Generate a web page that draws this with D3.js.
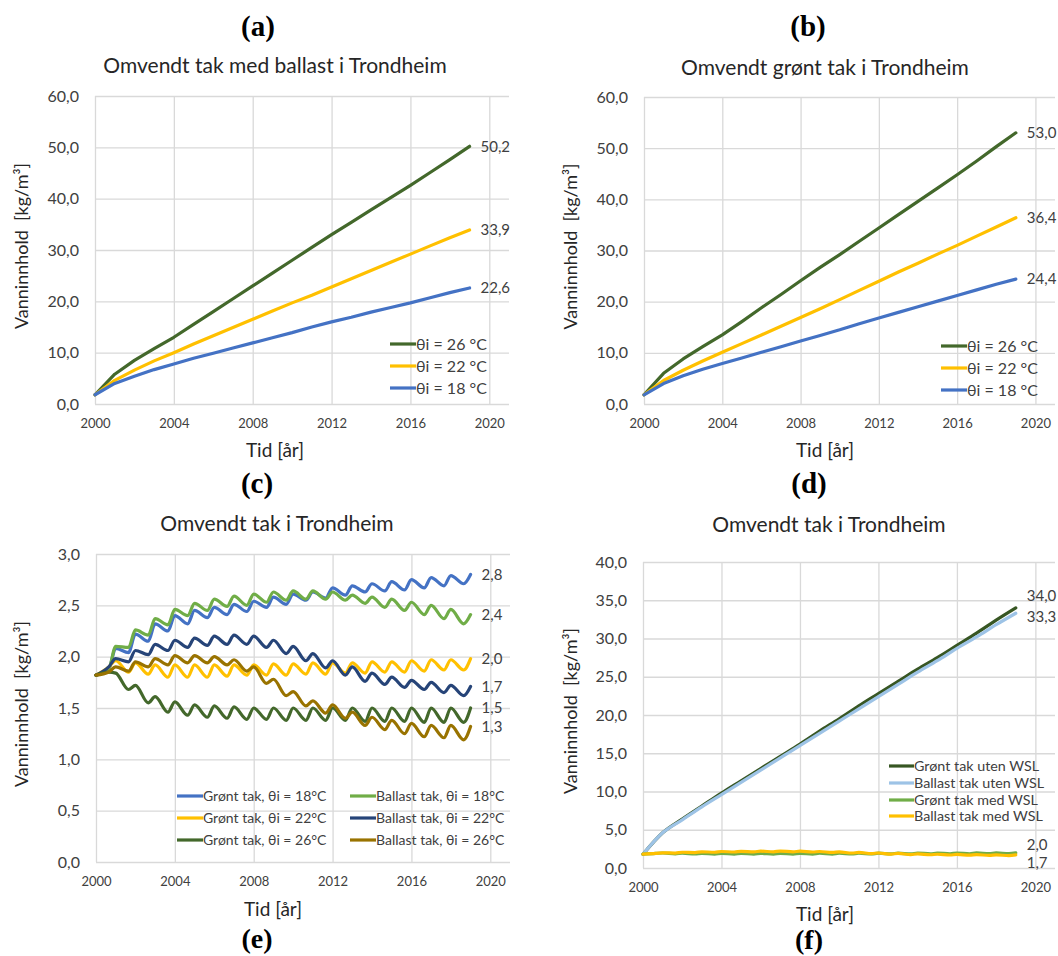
<!DOCTYPE html>
<html>
<head>
<meta charset="utf-8">
<script src="https://cdn.jsdelivr.net/npm/d3@7"></script>
<style>
  body { margin: 0; background: #fff; }
  svg { display: block; font-family: Lato, "Open Sans", sans-serif; }
  .ttl { white-space: pre; }
</style>
</head>
<body>
<script>
/**********************
 ***      Data      ***
 **********************/

// yearly points, panels (a), (b) and the "uten WSL" lines in (d)
const YEARS = [2000, 2001, 2002, 2003, 2004, 2005, 2006, 2007, 2008, 2009,
               2010, 2011, 2012, 2013, 2014, 2015, 2016, 2017, 2018, 2019];

// seasonal peaks (whole year) and troughs (.65) for panel (c) / med WSL lines
const TIMES_C = [2000, 2000.65, 2001, 2001.65, 2002, 2002.65, 2003, 2003.65, 2004, 2004.65,
                 2005, 2005.65, 2006, 2006.65, 2007, 2007.65, 2008, 2008.65, 2009, 2009.65,
                 2010, 2010.65, 2011, 2011.65, 2012, 2012.65, 2013, 2013.65, 2014, 2014.65,
                 2015, 2015.65, 2016, 2016.65, 2017, 2017.65, 2018, 2018.65, 2019];

const X_TICKS = [2000, 2004, 2008, 2012, 2016, 2020];

// (a) Omvendt tak med ballast
const A_THETA26 = [1.8, 5.8, 8.5, 10.8, 13.0, 15.5, 18.0, 20.5, 23.0, 25.5, 28.0, 30.5, 33.0, 35.4, 37.8, 40.2, 42.6, 45.1, 47.6, 50.2];
const A_THETA22 = [1.8, 4.6, 6.6, 8.4, 10.0, 11.7, 13.3, 14.9, 16.5, 18.1, 19.7, 21.2, 22.8, 24.4, 26.0, 27.6, 29.2, 30.8, 32.4, 33.9];
const A_THETA18 = [1.8, 4.0, 5.4, 6.7, 7.8, 8.9, 9.9, 10.9, 11.9, 12.9, 13.9, 15.0, 16.0, 16.9, 17.9, 18.8, 19.7, 20.7, 21.7, 22.6];

// (b) Omvendt grønt tak
const B_THETA26 = [1.8, 6.0, 8.8, 11.2, 13.5, 16.1, 18.8, 21.4, 24.1, 26.7, 29.2, 31.8, 34.4, 37.0, 39.6, 42.2, 44.8, 47.5, 50.3, 53.0];
const B_THETA22 = [1.8, 4.6, 6.6, 8.4, 10.1, 11.8, 13.5, 15.2, 16.9, 18.6, 20.4, 22.2, 24.0, 25.8, 27.5, 29.3, 31.0, 32.8, 34.6, 36.4];
const B_THETA18 = [1.8, 4.0, 5.5, 6.8, 7.9, 9.0, 10.1, 11.2, 12.3, 13.4, 14.5, 15.7, 16.8, 17.9, 19.0, 20.1, 21.2, 22.3, 23.4, 24.4];

// (c) Omvendt tak, grønt vs ballast
const C_GRONT18 = [1.82, 1.88, 2.08, 2.04, 2.22, 2.15, 2.32, 2.25, 2.40, 2.32, 2.45, 2.38, 2.48, 2.41, 2.51, 2.44, 2.54, 2.48, 2.58, 2.51,
                   2.61, 2.55, 2.63, 2.57, 2.67, 2.60, 2.69, 2.63, 2.71, 2.64, 2.73, 2.65, 2.75, 2.67, 2.77, 2.69, 2.79, 2.71, 2.80];
const C_BALLAST18 = [1.82, 1.88, 2.10, 2.09, 2.26, 2.21, 2.37, 2.31, 2.46, 2.40, 2.52, 2.45, 2.56, 2.49, 2.59, 2.50, 2.61, 2.53, 2.63, 2.55,
                     2.64, 2.56, 2.64, 2.56, 2.63, 2.55, 2.60, 2.52, 2.58, 2.48, 2.56, 2.45, 2.53, 2.41, 2.50, 2.37, 2.46, 2.32, 2.41];
const C_GRONT22 = [1.82, 1.90, 1.96, 1.85, 1.94, 1.83, 1.92, 1.80, 1.92, 1.80, 1.92, 1.80, 1.92, 1.81, 1.92, 1.82, 1.92, 1.82, 1.93, 1.82,
                   1.93, 1.83, 1.94, 1.83, 1.94, 1.84, 1.94, 1.84, 1.95, 1.85, 1.95, 1.85, 1.96, 1.86, 1.97, 1.87, 1.97, 1.87, 1.98];
const C_BALLAST22 = [1.82, 1.90, 1.98, 1.95, 2.06, 2.02, 2.12, 2.06, 2.16, 2.09, 2.18, 2.11, 2.20, 2.12, 2.21, 2.12, 2.20, 2.09, 2.16, 2.03,
                     2.10, 1.96, 2.03, 1.89, 1.96, 1.82, 1.90, 1.76, 1.84, 1.73, 1.80, 1.70, 1.77, 1.68, 1.75, 1.65, 1.72, 1.62, 1.71];
const C_GRONT26 = [1.82, 1.85, 1.84, 1.68, 1.72, 1.55, 1.61, 1.46, 1.56, 1.43, 1.53, 1.41, 1.52, 1.40, 1.51, 1.39, 1.50, 1.39, 1.50, 1.38,
                   1.50, 1.38, 1.50, 1.38, 1.50, 1.38, 1.50, 1.37, 1.50, 1.37, 1.50, 1.37, 1.50, 1.36, 1.50, 1.36, 1.50, 1.36, 1.50];
const C_BALLAST26 = [1.82, 1.85, 1.90, 1.86, 1.95, 1.90, 1.98, 1.92, 2.01, 1.94, 2.01, 1.94, 2.00, 1.92, 1.97, 1.86, 1.90, 1.74, 1.78, 1.62,
                     1.66, 1.52, 1.57, 1.45, 1.53, 1.40, 1.46, 1.33, 1.41, 1.29, 1.38, 1.25, 1.35, 1.22, 1.33, 1.21, 1.33, 1.19, 1.32];

// (d) med / uten WSL
const D_GRONT_UTEN = [1.8, 4.6, 6.4, 8.1, 9.8, 11.4, 13.0, 14.6, 16.2, 17.9, 19.5, 21.2, 22.8, 24.4, 26.0, 27.5, 29.1, 30.7, 32.4, 34.0];
const D_BALLAST_UTEN = [1.8, 4.6, 6.3, 8.0, 9.6, 11.2, 12.8, 14.4, 16.0, 17.6, 19.2, 20.8, 22.4, 24.0, 25.6, 27.1, 28.7, 30.2, 31.8, 33.3];
const D_GRONT_MED = [1.82, 1.90, 1.96, 1.85, 1.94, 1.83, 1.92, 1.80, 1.92, 1.80, 1.92, 1.80, 1.92, 1.81, 1.92, 1.82, 1.92, 1.82, 1.93, 1.82,
                     1.93, 1.83, 1.94, 1.83, 1.94, 1.84, 1.94, 1.84, 1.95, 1.85, 1.95, 1.85, 1.96, 1.86, 1.97, 1.87, 1.97, 1.87, 1.98];
const D_BALLAST_MED = [1.82, 1.90, 1.98, 1.95, 2.06, 2.02, 2.12, 2.06, 2.16, 2.09, 2.18, 2.11, 2.20, 2.12, 2.21, 2.12, 2.20, 2.09, 2.16, 2.03,
                       2.10, 1.96, 2.03, 1.89, 1.96, 1.82, 1.90, 1.76, 1.84, 1.73, 1.80, 1.70, 1.77, 1.68, 1.75, 1.65, 1.72, 1.62, 1.71];

/**********************
 ***    Constants   ***
 **********************/
const WIDTH = 1058, HEIGHT = 956;
const GRID = '#d9d9d9';
const TEXT = '#262626';
const TICK_TEXT = '#404040';
const Y_TITLE = 'Vanninnhold  [kg/m\u00b3]';
const X_TITLE = 'Tid [år]';

const COLORS = {
  blue: '#4472c4', yellow: '#ffc000', green: '#70ad47',
  navy: '#264478', olive: '#43682b', gold: '#997300',
  darkGreen: '#375623', lightBlue: '#9dc3e6'
};

const no = d3.formatLocale({ decimal: ',', thousands: '\u00a0', grouping: [3], currency: ['', ''] });
const fmt1 = no.format('.1f');

const svg = d3.select('body').append('svg')
  .attr('width', WIDTH)
  .attr('height', HEIGHT);

/**********************
 ***     Panels     ***
 **********************/
const panels = [
  {
    label: '(a)', labelPos: [258, 36], title: 'Omvendt tak med ballast i Trondheim', titlePos: [275, 73],
    left: 95, right: 509, top: 96, bottom: 404, yMax: 60, yStep: 10,
    yTitleX: 22, xTitlePos: [275, 457],
    times: YEARS,
    series: [
      { name: 'θi = 26 °C', values: A_THETA26, color: COLORS.olive },
      { name: 'θi = 22 °C', values: A_THETA22, color: COLORS.yellow },
      { name: 'θi = 18 °C', values: A_THETA18, color: COLORS.blue }
    ],
    legend: { cols: [[390, 0]], rows: [344, 366, 388], len: 26, size: 16 },
    endLabels: [0, 0, 0]
  },
  {
    label: '(b)', labelPos: [808, 36], title: 'Omvendt grønt tak i Trondheim', titlePos: [825, 75],
    left: 644, right: 1055, top: 97, bottom: 404, yMax: 60, yStep: 10,
    yTitleX: 571, xTitlePos: [825, 457],
    times: YEARS,
    series: [
      { name: 'θi = 26 °C', values: B_THETA26, color: COLORS.olive },
      { name: 'θi = 22 °C', values: B_THETA22, color: COLORS.yellow },
      { name: 'θi = 18 °C', values: B_THETA18, color: COLORS.blue }
    ],
    legend: { cols: [[941, 0]], rows: [346, 368, 390], len: 26, size: 16 },
    endLabels: [0, 0, 0]
  },
  {
    label: '(c)', labelPos: [257, 493], title: 'Omvendt tak i Trondheim', titlePos: [277, 531],
    left: 96, right: 510, top: 554, bottom: 862, yMax: 3, yStep: 0.5,
    yTitleX: 22, xTitlePos: [273, 916],
    times: TIMES_C, smooth: true,
    series: [
      { name: 'Grønt tak, θi = 18°C', values: C_GRONT18, color: COLORS.blue },
      { name: 'Ballast tak, θi = 18°C', values: C_BALLAST18, color: COLORS.green },
      { name: 'Grønt tak, θi = 22°C', values: C_GRONT22, color: COLORS.yellow },
      { name: 'Ballast tak, θi = 22°C', values: C_BALLAST22, color: COLORS.navy },
      { name: 'Grønt tak, θi = 26°C', values: C_GRONT26, color: COLORS.olive },
      { name: 'Ballast tak, θi = 26°C', values: C_BALLAST26, color: COLORS.gold }
    ],
    legend: { cols: [[177, 0], [350, 1]], rows: [796, 818, 840], len: 26, size: 14, twoCol: true },
    endLabels: [0, 0, 0, 0, 0, 0]
  },
  {
    label: '(d)', labelPos: [809, 493], title: 'Omvendt tak i Trondheim', titlePos: [829, 532],
    left: 643, right: 1055, top: 562, bottom: 868, yMax: 40, yStep: 5,
    yTitleX: 571, xTitlePos: [825, 921],
    times: null, smooth: true,
    series: [
      { name: 'Grønt tak uten WSL', values: D_GRONT_UTEN, times: YEARS, color: COLORS.darkGreen },
      { name: 'Ballast tak uten WSL', values: D_BALLAST_UTEN, times: YEARS, color: COLORS.lightBlue },
      { name: 'Grønt tak med WSL', values: D_GRONT_MED, times: TIMES_C, color: COLORS.green },
      { name: 'Ballast tak med WSL', values: D_BALLAST_MED, times: TIMES_C, color: COLORS.yellow }
    ],
    legend: { cols: [[889, 0]], rows: [766, 783, 800, 816], len: 25, size: 14.3 },
    endLabels: [-12, 3, -8, 8]
  }
];

function drawPanel(p) {
  const g = svg.append('g');
  const x = d3.scaleLinear().domain([2000, 2021]).range([p.left, p.right]);
  const y = d3.scaleLinear().domain([0, p.yMax]).range([p.bottom, p.top]);
  const yTicks = d3.range(0, p.yMax + p.yStep / 2, p.yStep);

  // horizontal gridlines + y tick labels
  g.append('g')
    .attr('transform', `translate(${p.left},0)`)
    .call(d3.axisLeft(y).tickValues(yTicks).tickSize(-(p.right - p.left)).tickPadding(16).tickFormat(fmt1))
    .call(a => a.select('.domain').remove())
    .call(a => a.selectAll('line').attr('stroke', GRID).attr('stroke-width', 1.3))
    .call(a => a.selectAll('text').attr('font-size', 16).attr('fill', TICK_TEXT).attr('font-family', 'Lato'));

  // vertical gridlines + x tick labels
  g.append('g')
    .attr('transform', `translate(0,${p.bottom})`)
    .call(d3.axisBottom(x).tickValues(X_TICKS).tickSize(-(p.bottom - p.top)).tickPadding(15).tickFormat(d3.format('d')))
    .call(a => a.select('.domain').remove())
    .call(a => a.selectAll('line').attr('stroke', GRID).attr('stroke-width', 1.3))
    .call(a => a.selectAll('text').attr('font-size', 13).attr('fill', TICK_TEXT).attr('font-family', 'Lato'));

  // lines
  p.series.forEach(s => {
    const times = s.times || p.times;
    const line = d3.line()
      .x((d, i) => x(times[i]))
      .y(d => y(d))
      .curve(p.smooth ? d3.curveMonotoneX : d3.curveLinear);
    g.append('path')
      .datum(s.values)
      .attr('d', line)
      .attr('fill', 'none')
      .attr('stroke', s.color)
      .attr('stroke-width', 3.2)
      .attr('stroke-linejoin', 'round')
      .attr('stroke-linecap', 'round');
  });

  // value labels at the line ends
  p.series.forEach((s, i) => {
    const times = s.times || p.times;
    const last = s.values.length - 1;
    g.append('text')
      .attr('x', x(times[last]) + 11)
      .attr('y', y(s.values[last]) + p.endLabels[i])
      .attr('dy', '0.35em')
      .attr('font-size', 15)
      .attr('fill', TICK_TEXT)
      .text(fmt1(s.values[last]));
  });

  // legend
  const lg = g.append('g');
  p.series.forEach((s, i) => {
    const col = p.legend.twoCol ? i % 2 : 0;
    const row = p.legend.twoCol ? Math.floor(i / 2) : i;
    const lx = p.legend.cols[col][0];
    const ly = p.legend.rows[row];
    lg.append('line')
      .attr('x1', lx).attr('x2', lx + p.legend.len)
      .attr('y1', ly).attr('y2', ly)
      .attr('stroke', s.color).attr('stroke-width', 3.2);
    lg.append('text')
      .attr('x', lx + p.legend.len)
      .attr('y', ly)
      .attr('dy', '0.35em')
      .attr('font-size', p.legend.size)
      .attr('fill', TICK_TEXT)
      .text(s.name);
  });

  // titles
  svg.append('text')
    .attr('x', p.titlePos[0]).attr('y', p.titlePos[1])
    .attr('text-anchor', 'middle')
    .attr('font-size', 21)
    .attr('fill', TEXT)
    .text(p.title);

  svg.append('text')
    .attr('class', 'ttl')
    .attr('transform', `translate(${p.yTitleX},${(p.top + p.bottom) / 2 - 4}) rotate(-90)`)
    .attr('text-anchor', 'middle')
    .attr('dy', '0.35em')
    .attr('font-size', 18)
    .attr('fill', TEXT)
    .text(Y_TITLE);

  svg.append('text')
    .attr('x', p.xTitlePos[0]).attr('y', p.xTitlePos[1])
    .attr('text-anchor', 'middle')
    .attr('font-size', 19)
    .attr('fill', TEXT)
    .text(X_TITLE);

  svg.append('text')
    .attr('x', p.labelPos[0]).attr('y', p.labelPos[1])
    .attr('text-anchor', 'middle')
    .attr('font-family', '"Liberation Serif", "Times New Roman", serif')
    .attr('font-weight', 'bold')
    .attr('font-size', 29)
    .attr('fill', '#000')
    .text(p.label);
}

panels.forEach(drawPanel);

// bottom captions
[['(e)', 257, 948], ['(f)', 809, 949]].forEach(([t, cx, cy]) => {
  svg.append('text')
    .attr('x', cx).attr('y', cy)
    .attr('text-anchor', 'middle')
    .attr('font-family', '"Liberation Serif", "Times New Roman", serif')
    .attr('font-weight', 'bold')
    .attr('font-size', 28)
    .text(t);
});
</script>
</body>
</html>
